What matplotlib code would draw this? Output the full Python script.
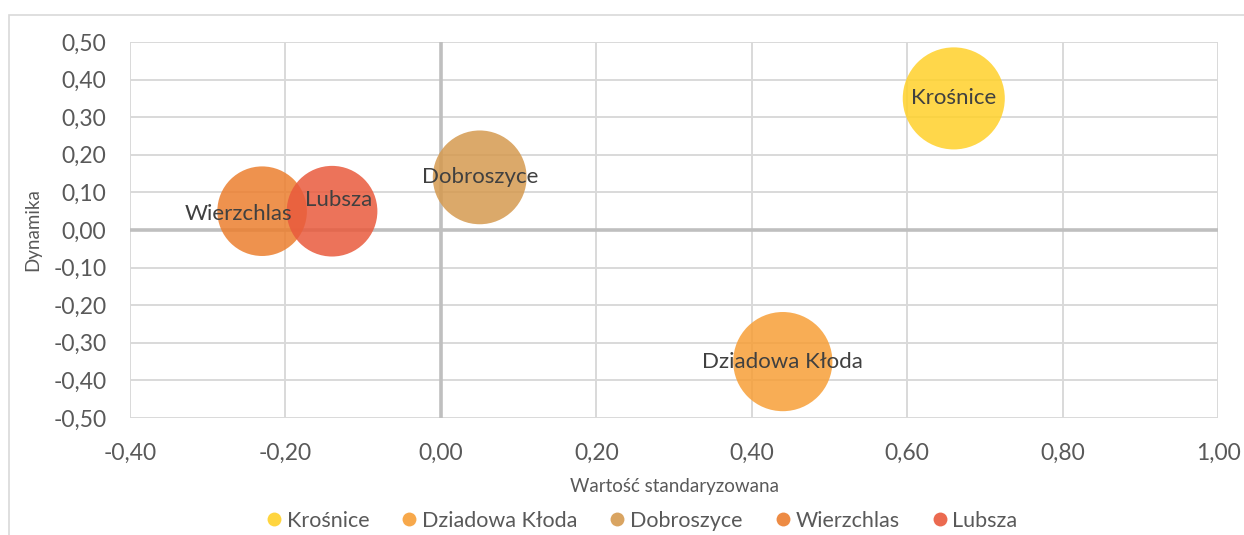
import matplotlib
matplotlib.use("Agg")
import matplotlib.pyplot as plt
from matplotlib.patches import Rectangle
from matplotlib.ticker import FixedLocator, FuncFormatter

# ---- data ----
names = ["Krośnice", "Dziadowa Kłoda", "Dobroszyce", "Wierzchlas", "Lubsza"]
x_vals = [0.66, 0.44, 0.05, -0.23, -0.14]
y_vals = [0.35, -0.35, 0.14, 0.05, 0.05]
bubble_size = [2.70, 2.55, 2.28, 2.08, 2.13]
colors = ["#FFD12A", "#F79F37", "#D59A50", "#EC7F2F", "#E95A3D"]
x_ticks = [-0.4, -0.2, 0.0, 0.2, 0.4, 0.6, 0.8, 1.0]
y_ticks = [-0.5, -0.4, -0.3, -0.2, -0.1, 0.0, 0.1, 0.2, 0.3, 0.4, 0.5]
x_label = "Wartość standaryzowana"
y_label = "Dynamika"

FONT = ["Lato", "DejaVu Sans"]
plt.rcParams["font.family"] = FONT
TXT = "#595959"

W, H = 1244, 535
fig = plt.figure(figsize=(W / 100, H / 100), dpi=100)
ax = fig.add_axes([130 / W, (H - 418) / H, (1218 - 130) / W, (418 - 42) / H])

ax.set_xlim(-0.4, 1.0)
ax.set_ylim(-0.5, 0.5)
ax.xaxis.set_major_locator(FixedLocator(x_ticks))
ax.yaxis.set_major_locator(FixedLocator(y_ticks))
fmt = FuncFormatter(lambda v, p: f"{v:.2f}".replace(".", ",").replace("-0,00", "0,00"))
ax.xaxis.set_major_formatter(fmt)
ax.yaxis.set_major_formatter(fmt)
ax.grid(True, color="#D9D9D9", linewidth=1.4, zorder=0)
ax.set_axisbelow(True)
for s in ax.spines.values():
    s.set_visible(False)
ax.axhline(0, color="#BFBFBF", linewidth=2.6, zorder=1)
ax.axvline(0, color="#BFBFBF", linewidth=2.6, zorder=1)
ax.tick_params(length=0, labelsize=16.5, labelcolor=TXT)
ax.tick_params(axis="y", pad=17)
ax.tick_params(axis="x", pad=18)

SCALE = 2000.0
offsets = [(0, 0), (0, 0), (0, 0), (-17, -2), (5, 8)]
for n, x, y, b, c in zip(names, x_vals, y_vals, bubble_size, colors):
    ax.scatter([x], [y], s=b * SCALE, color=c, alpha=0.85, edgecolors="none",
               label=n, zorder=3)
for n, x, y, off in zip(names, x_vals, y_vals, offsets):
    ax.annotate(n, (x, y), xytext=off, textcoords="offset points",
                ha="center", va="center", fontsize=16, color="#404040", zorder=5)

ax.set_xlabel(x_label, fontsize=13.5, color=TXT, labelpad=10)
ax.set_ylabel(y_label, fontsize=13.5, color=TXT, labelpad=9)

handles = [plt.Line2D([], [], marker="o", linestyle="none", markersize=10,
                      markerfacecolor=c, markeredgecolor="none", alpha=0.9)
           for c in colors]
fig.legend(handles, names, loc="center", bbox_to_anchor=(642 / W, 1 - 521 / H),
           ncol=5, frameon=False, fontsize=15.5, handletextpad=0.25,
           handlelength=0.7, columnspacing=1.5, labelcolor=TXT)

fig.patches.append(Rectangle((9 / W, -0.1), (W - 9 + 10) / W, 1.1 - 15 / H,
                             transform=fig.transFigure, fill=False,
                             edgecolor="#D9D9D9", linewidth=1.2))

fig.savefig("out.png", dpi=100)
